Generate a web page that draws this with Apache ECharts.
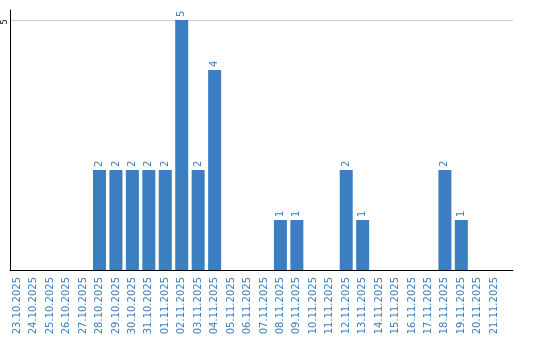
<!DOCTYPE html>
<html><head><meta charset="utf-8">
<script src="https://cdn.jsdelivr.net/npm/echarts@6/dist/echarts.min.js"></script>
<style>html,body{margin:0;padding:0;background:#fff}#c{width:540px;height:340px}</style>
</head><body><div id="c"></div>
<script>
var categories = ['23.10.2025','24.10.2025','25.10.2025','26.10.2025','27.10.2025','28.10.2025','29.10.2025','30.10.2025','31.10.2025','01.11.2025','02.11.2025','03.11.2025','04.11.2025','05.11.2025','06.11.2025','07.11.2025','08.11.2025','09.11.2025','10.11.2025','11.11.2025','12.11.2025','13.11.2025','14.11.2025','15.11.2025','16.11.2025','17.11.2025','18.11.2025','19.11.2025','20.11.2025','21.11.2025'];
var values = [0,0,0,0,0,2,2,2,2,2,5,2,4,0,0,0,1,1,0,0,2,1,0,0,0,0,2,1,0,0];
var yTicks = [5];

var blue = '#3b7ec1';
var idx = categories.map(function(_, i){ return i; });
var chart = echarts.init(document.getElementById('c'), null, {renderer:'canvas'});
chart.setOption({
  animation: false,
  grid: {left: 10, right: 27, top: 10, bottom: 70, containLabel: false, outerBoundsMode: 'none'},
  xAxis: {
    type: 'value', min: -0.44, max: 30.14,
    axisLine: {show: true, onZero: false, lineStyle: {color: '#000', width: 1}},
    axisTick: {show: false},
    splitLine: {show: false},
    axisLabel: {
      customValues: idx, rotate: 90, margin: 7,
      color: blue, fontSize: 10, fontFamily: 'DejaVu Sans',
      formatter: function(v){ return categories[Math.round(v)] || ''; }
    }
  },
  yAxis: {
    type: 'value', min: 0, max: 5.2, interval: 5,
    axisLine: {show: true, onZero: false, lineStyle: {color: '#000', width: 1}},
    axisTick: {show: false},
    splitLine: {show: true, showMaxLine: false, showMinLine: false, lineStyle: {color: '#cccccc', width: 1}},
    axisLabel: {
      customValues: yTicks, rotate: 90, margin: 1, align: 'center', verticalAlign: 'bottom',
      padding: [0, 4, 0, 0], color: '#000', fontSize: 8, fontFamily: 'DejaVu Sans'
    }
  },
  series: [{
    type: 'bar', barWidth: 13,
    data: values.map(function(v, i){ return [i, v]; }),
    itemStyle: {color: blue},
    label: {
      show: true, position: 'top', rotate: 90, align: 'left', verticalAlign: 'middle', distance: 3,
      color: blue, fontSize: 10, fontFamily: 'DejaVu Sans',
      formatter: function(p){ return p.value[1] ? String(p.value[1]) : ''; }
    }
  }]
});
</script></body></html>
